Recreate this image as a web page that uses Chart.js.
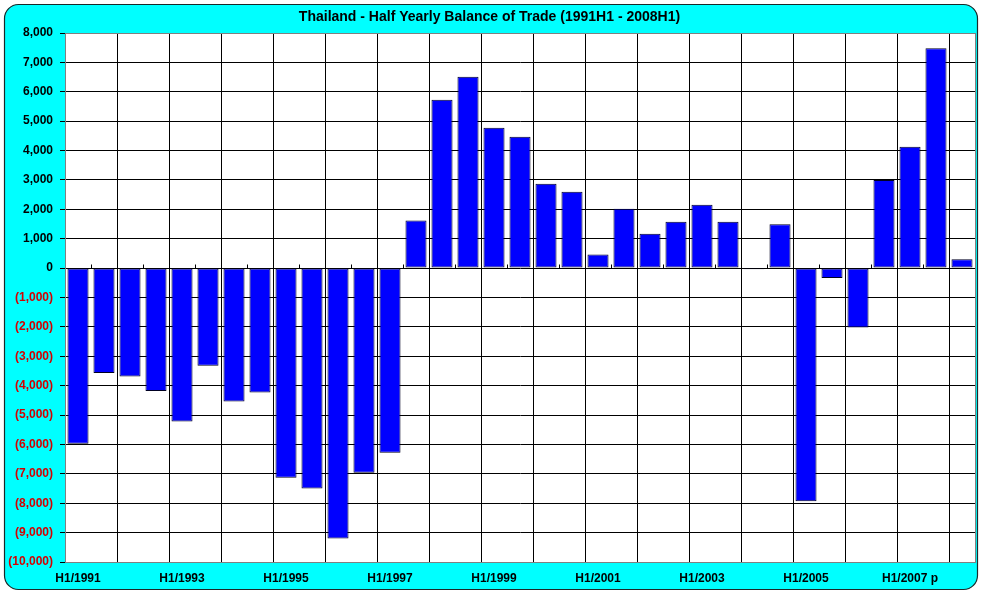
<!DOCTYPE html>
<html>
<head>
<meta charset="utf-8">
<title>Thailand - Half Yearly Balance of Trade</title>
<script src="https://cdn.jsdelivr.net/npm/chart.js@4.4.1/dist/chart.umd.min.js"></script>
<style>
	body { margin: 0; background: #ffffff; }
	canvas { display: block; }
</style>
</head>
<body>
<canvas id="tradeChart" width="983" height="594"></canvas>
<script>
// half-year periods, 1991H1 - 2008H1 (p = preliminary)
const periods = [
	"H1/1991", "H2/1991", "H1/1992", "H2/1992", "H1/1993", "H2/1993",
	"H1/1994", "H2/1994", "H1/1995", "H2/1995", "H1/1996", "H2/1996",
	"H1/1997", "H2/1997", "H1/1998", "H2/1998", "H1/1999", "H2/1999",
	"H1/2000", "H2/2000", "H1/2001", "H2/2001", "H1/2002", "H2/2002",
	"H1/2003", "H2/2003", "H1/2004", "H2/2004", "H1/2005", "H2/2005",
	"H1/2006", "H2/2006", "H1/2007 p", "H2/2007 p", "H1/2008 p",
];

// balance of trade, million US$
const balance = [
	-5980, -3570, -3690, -4180, -5220, -3320,
	-4540, -4230, -7130, -7500, -9200, -6960,
	-6280, 1620, 5730, 6510, 4780, 4470,
	2870, 2600, 460, 2020, 1170, 1580,
	2160, 1580, -40, 1490, -7930, -340,
	-2020, 3000, 4130, 7480, 300,
];

const yMin = -10000;
const yMax = 8000;
const yStep = 1000;

const fontFamily = "'Liberation Sans', Arial, sans-serif";

// cyan rounded panel behind everything, white plot area
const panelPlugin = {
	id: "panel",
	beforeDraw(chart) {
		const c = chart.ctx;
		const a = chart.chartArea;
		c.save();
		c.fillStyle = "#ffffff";
		c.fillRect(0, 0, chart.width, chart.height);
		c.beginPath();
		c.roundRect(4.5, 4.5, 973, 585, 14);
		c.fillStyle = "#00ffff";
		c.fill();
		c.lineWidth = 1.2;
		c.strokeStyle = "#1a2a2a";
		c.stroke();
		c.fillStyle = "#ffffff";
		c.fillRect(a.left, a.top, a.right - a.left, a.bottom - a.top);
		c.restore();
	},
	beforeDatasetsDraw(chart) {
		const c = chart.ctx;
		const a = chart.chartArea;
		const y0 = Math.round(chart.scales.y.getPixelForValue(0)) + 0.5;
		const n = chart.data.labels.length;
		const w = (a.right - a.left) / n;
		c.save();
		c.strokeStyle = "#000000";
		c.lineWidth = 1;
		c.beginPath();
		for (let i = 1; i < n; i++) {
			const x = Math.round(a.left + i * w) + 0.5;
			c.moveTo(x, y0);
			c.lineTo(x, y0 - 4);
		}
		c.stroke();
		c.strokeStyle = "#808080";
		c.strokeRect(a.left + 0.5, a.top + 0.5, a.right - a.left, a.bottom - a.top);
		c.restore();
	},
};

const canvaTrade = document.getElementById("tradeChart").getContext("2d");

const tradeChart = new Chart(canvaTrade, {
	type: "bar",
	data: {
		labels: periods,
		datasets: [
			{
				label: "Balance of Trade",
				data: balance,
				backgroundColor: "#0000ff",
				borderColor: "#000022",
				borderWidth: 1,
				borderSkipped: false,
				categoryPercentage: 1,
				barPercentage: 0.81,
			},
		],
	},
	options: {
		responsive: false,
		animation: false,
		devicePixelRatio: 1,
		layout: {
			padding: { left: 4, right: 8, top: 0, bottom: 0 },
		},
		plugins: {
			legend: { display: false },
			tooltip: { enabled: false },
			title: {
				display: true,
				text: "Thailand - Half Yearly Balance of Trade (1991H1 - 2008H1)",
				color: "#000000",
				font: { family: fontFamily, size: 14, weight: "bold", lineHeight: 1.2 },
				padding: { top: 9, bottom: 7.2 },
			},
		},
		scales: {
			x: {
				offset: true,
				grid: {
					offset: true,
					drawTicks: false,
					color: (ctx) => (ctx.index % 2 === 0 ? "#000000" : "rgba(0,0,0,0)"),
					lineWidth: 1,
				},
				border: { display: false },
				ticks: {
					autoSkip: false,
					maxRotation: 0,
					minRotation: 0,
					padding: 9,
					color: "#000000",
					font: { family: fontFamily, size: 12, weight: "bold" },
					callback: function (value, index) {
						return index % 4 === 0 ? this.getLabelForValue(value) : "";
					},
				},
				afterFit(scale) {
					scale.height = 32;
				},
			},
			y: {
				min: yMin,
				max: yMax,
				grid: {
					color: "#000000",
					lineWidth: 1,
					tickLength: 5,
				},
				border: { display: true, color: "#000000" },
				ticks: {
					stepSize: yStep,
					padding: 7,
					font: { family: fontFamily, size: 12, weight: "bold" },
					color: (ctx) => (ctx.tick && ctx.tick.value < 0 ? "#d40000" : "#000000"),
					callback: (v) => {
						const s = Math.abs(v).toLocaleString("en-US");
						return v < 0 ? "(" + s + ")" : s;
					},
				},
				afterFit(scale) {
					scale.width = 61;
				},
			},
		},
	},
	plugins: [panelPlugin],
});
</script>
</body>
</html>
